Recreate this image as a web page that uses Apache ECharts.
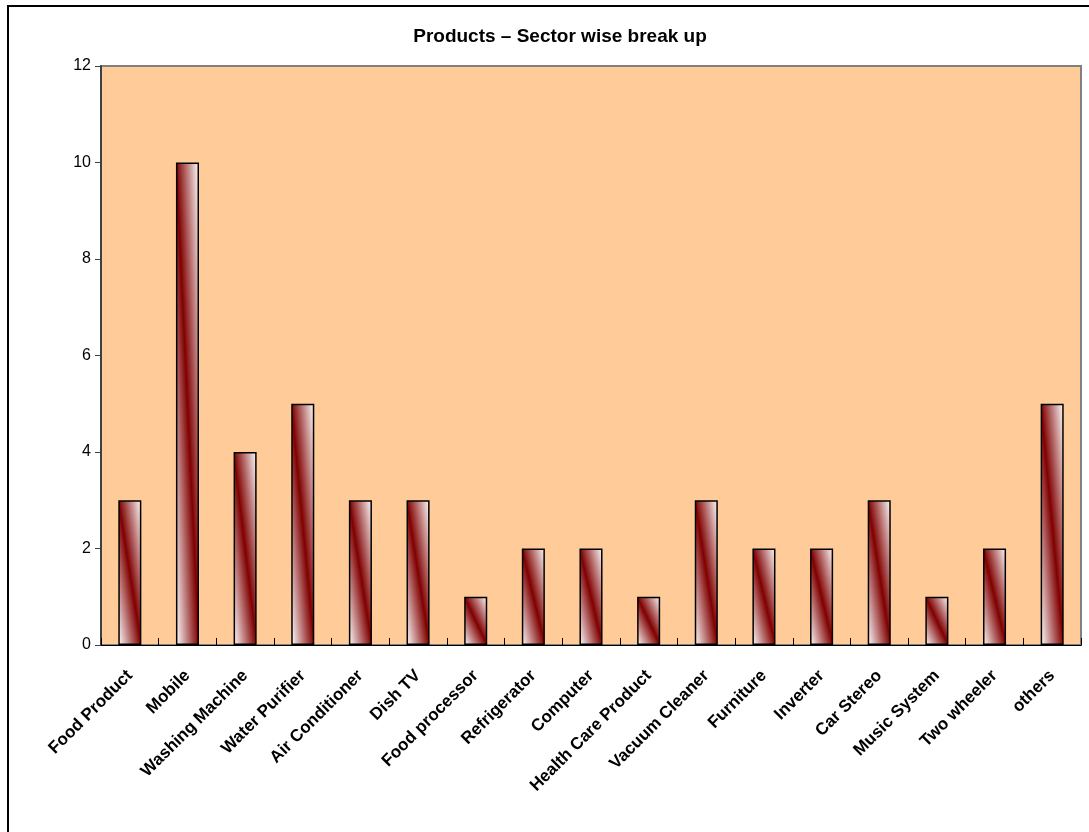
<!DOCTYPE html>
<html>
<head>
<meta charset="utf-8">
<script src="https://cdn.jsdelivr.net/npm/echarts@6/dist/echarts.min.js"></script>
<style>
  html, body { margin: 0; padding: 0; background: #fff; }
  #chart { width: 1089px; height: 832px; }
</style>
</head>
<body>
<div id="chart"></div>
<script>
// chart data
const categories = ['Food Product', 'Mobile', 'Washing Machine', 'Water Purifier', 'Air Conditioner',
  'Dish TV', 'Food processor', 'Refrigerator', 'Computer', 'Health Care Product', 'Vacuum Cleaner',
  'Furniture', 'Inverter', 'Car Stereo', 'Music System', 'Two wheeler', 'others'];
const counts = [3, 10, 4, 5, 3, 3, 1, 2, 2, 1, 3, 2, 2, 3, 1, 2, 5];
const yTicks = [0, 2, 4, 6, 8, 10, 12];

const chart = echarts.init(document.getElementById('chart'));

const options = {
  backgroundColor: '#ffffff',
  animation: false,
  title: {
    text: 'Products – Sector wise break up',
    left: 555,
    top: 22,
    textAlign: 'center',
    textStyle: { fontFamily: 'Arial, Liberation Sans', fontSize: 19, fontWeight: 'bold', color: '#000' }
  },
  graphic: [{
    type: 'rect',
    shape: { x: 8, y: 6, width: 1200, height: 1000 },
    style: { fill: 'none', stroke: '#000', lineWidth: 2 },
    silent: true
  }],
  grid: {
    left: 101, top: 66, right: 8, bottom: 187,
    show: true,
    backgroundColor: '#FFCC99',
    borderColor: '#808080',
    borderWidth: 2
  },
  xAxis: {
    type: 'category',
    data: categories,
    axisLine: { lineStyle: { color: '#000', width: 1 } },
    axisTick: { show: true, inside: true, length: 7, alignWithLabel: false, lineStyle: { color: '#000' } },
    axisLabel: {
      rotate: 45, interval: 0, margin: 28,
      fontFamily: 'Arial, Liberation Sans', fontSize: 17, fontWeight: 'bold', color: '#000'
    }
  },
  yAxis: {
    type: 'value',
    min: yTicks[0],
    max: yTicks[yTicks.length - 1],
    interval: 2,
    axisLine: { show: true, lineStyle: { color: '#404040', width: 2 } },
    axisTick: { show: true, length: 6, lineStyle: { color: '#404040' } },
    splitLine: { show: false },
    axisLabel: { margin: 10, fontFamily: 'Arial, Liberation Sans', fontSize: 16, color: '#000' }
  },
  series: [{
    type: 'bar',
    data: counts,
    barWidth: '40%',
    itemStyle: { color: '#800000', borderColor: '#000', borderWidth: 1.5 }
  }]
};

chart.setOption(options);

// diagonal stripe gradient: dark red along the top-left -> bottom-right diagonal of each bar
const unitPx = Math.abs(chart.convertToPixel({ yAxisIndex: 0 }, 0) - chart.convertToPixel({ yAxisIndex: 0 }, 1));
const bandPx = Math.abs(chart.convertToPixel({ xAxisIndex: 0 }, 1) - chart.convertToPixel({ xAxisIndex: 0 }, 0));
const barW = bandPx * 0.4;

const styledData = counts.map(v => {
  const h = v * unitPx;
  const w = barW;
  const L2 = w * w + h * h;
  const ax = (h * h) / L2;
  const ay = (w * w) / L2;
  return {
    value: v,
    itemStyle: {
      color: new echarts.graphic.LinearGradient(0.5 - ax, 0.5 + ay, 0.5 + ax, 0.5 - ay, [
        { offset: 0, color: '#ffffff' },
        { offset: 0.5, color: '#800000' },
        { offset: 1, color: '#ffffff' }
      ])
    }
  };
});

chart.setOption({ series: [{ data: styledData }] });
</script>
</body>
</html>
